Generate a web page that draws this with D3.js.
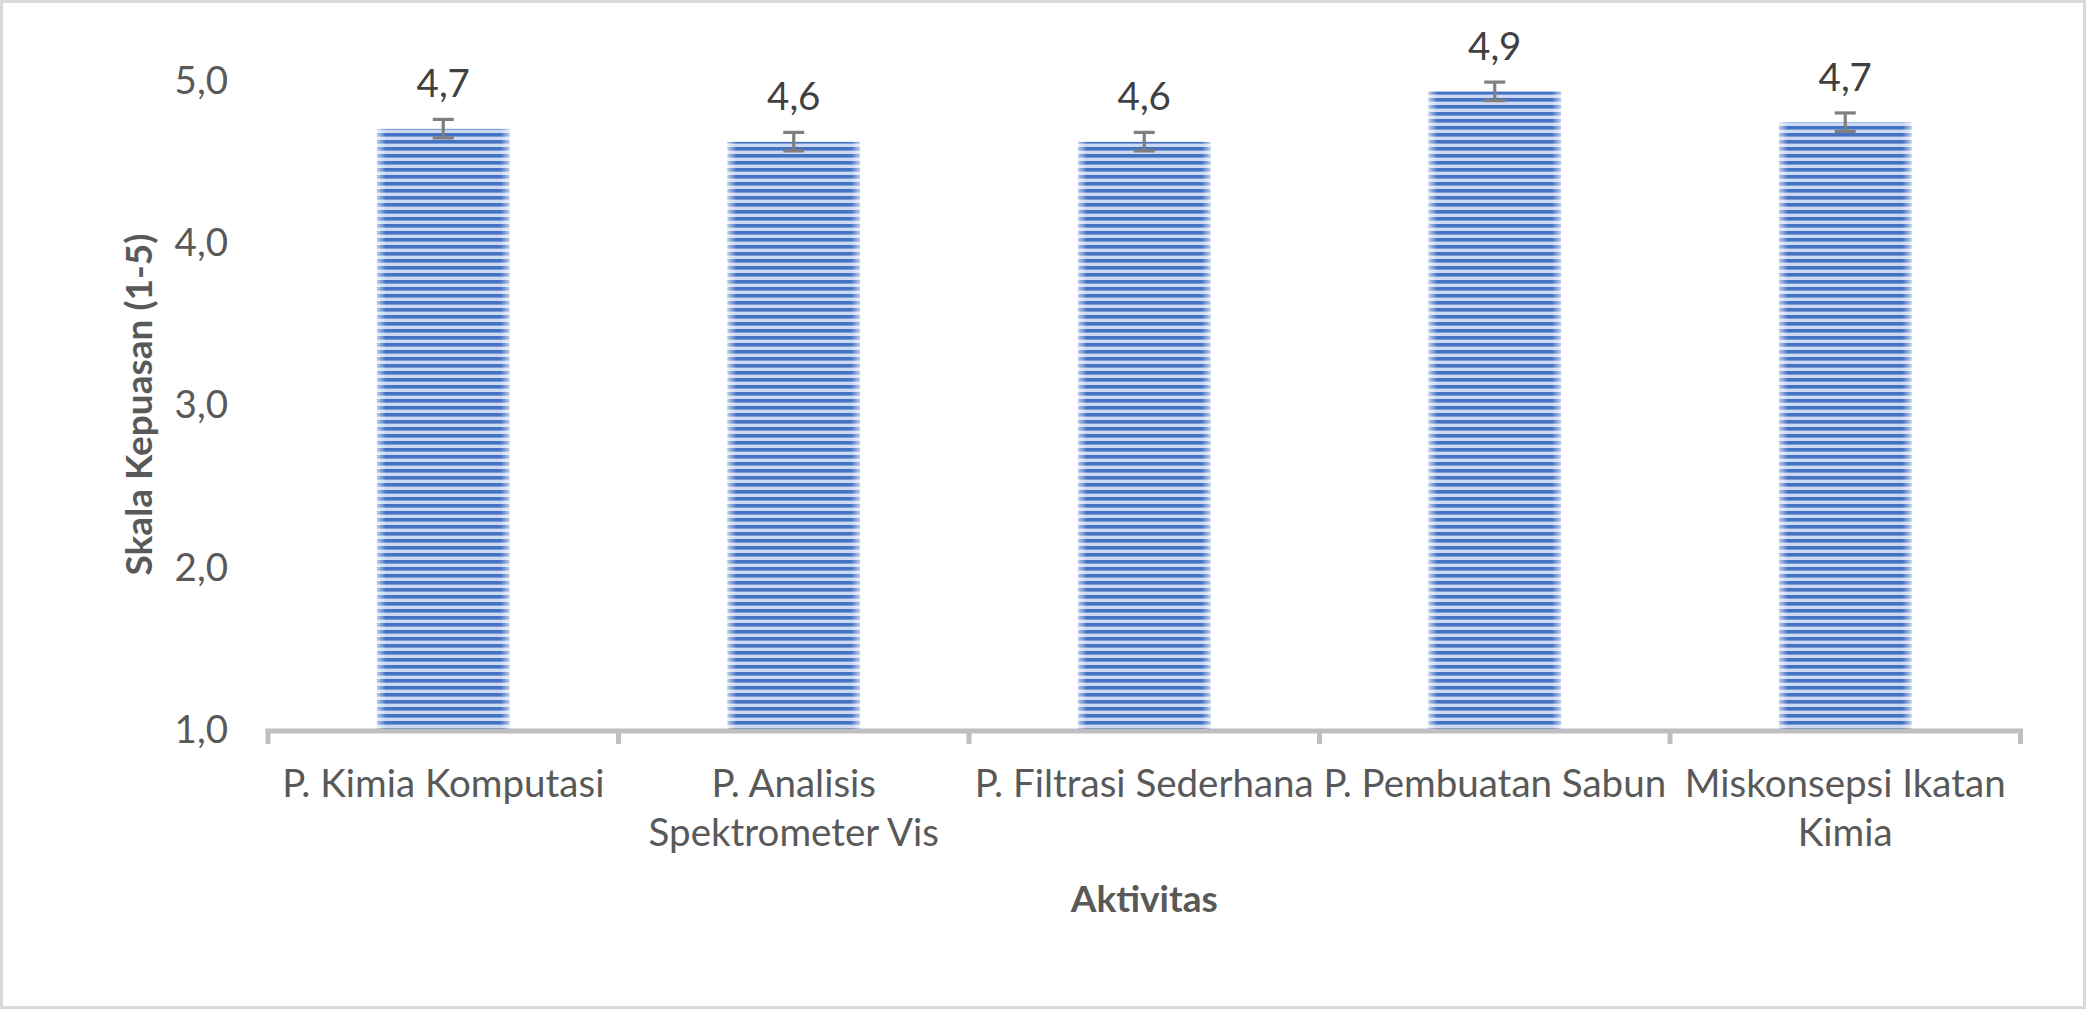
<!DOCTYPE html>
<html>
<head>
<meta charset="utf-8">
<script src="https://cdn.jsdelivr.net/npm/d3@7"></script>
<style>
    body { margin: 0; background: #fff; }
    svg text { font-family: Lato, "Open Sans", sans-serif; }
</style>
</head>
<body>
<div id="chart"></div>
<script>
const categories = ["P. Kimia Komputasi", "P. Analisis Spektrometer Vis", "P. Filtrasi Sederhana", "P. Pembuatan Sabun", "Miskonsepsi Ikatan Kimia"];
const labelLines = [["P. Kimia Komputasi"], ["P. Analisis", "Spektrometer Vis"], ["P. Filtrasi Sederhana"], ["P. Pembuatan Sabun"], ["Miskonsepsi Ikatan", "Kimia"]];
const values = [4.70, 4.62, 4.62, 4.93, 4.74];
const errors = [0.057, 0.057, 0.057, 0.057, 0.057];
const yTicks = [1, 2, 3, 4, 5];
const yTitle = "Skala Kepuasan (1-5)";
const xTitle = "Aktivitas";

const WIDTH = 2086, HEIGHT = 1009;
const MARGIN = { top: 80, right: 65.5, bottom: 280, left: 268 };
const FONT = 38.5;
const TITLE_FONT = 37;

let fmt = v => d3.format('.1f')(v).replace('.', ',');

let svg = d3.select('#chart').append('svg')
    .attr('width', WIDTH)
    .attr('height', HEIGHT);

// chart area border
svg.append('rect')
    .attr('x', 1.5).attr('y', 1.5)
    .attr('width', WIDTH - 3).attr('height', HEIGHT - 3)
    .attr('fill', '#fff')
    .attr('stroke', '#d9d9d9')
    .attr('stroke-width', 3);

let x = d3.scaleBand()
    .domain(categories)
    .range([MARGIN.left, WIDTH - MARGIN.right])
    .paddingInner(0.62)
    .paddingOuter(0.31);

let y = d3.scaleLinear()
    .domain([1, 5])
    .range([HEIGHT - MARGIN.bottom, MARGIN.top]);

// striped fill with soft edges
let defs = svg.append('defs');
let pat = defs.append('pattern')
    .attr('id', 'stripes')
    .attr('patternUnits', 'userSpaceOnUse')
    .attr('width', 8).attr('height', 7);
pat.append('rect').attr('width', 8).attr('height', 7).attr('fill', '#cdd9f0');
pat.append('rect').attr('width', 8).attr('height', 3.6).attr('fill', '#4472c4');

let grad = defs.append('linearGradient').attr('id', 'softEdge');
[[0, 0.35], [0.07, 1], [0.93, 1], [1, 0.35]].forEach(s => {
    grad.append('stop').attr('offset', s[0]).attr('stop-color', '#fff').attr('stop-opacity', s[1]);
});
defs.append('mask')
    .attr('id', 'soft')
    .attr('maskContentUnits', 'objectBoundingBox')
    .append('rect').attr('width', 1).attr('height', 1).attr('fill', 'url(#softEdge)');

let data = categories.map((c, i) => ({ cat: c, value: values[i], err: errors[i], lines: labelLines[i] }));

svg.append('g').selectAll('rect')
    .data(data)
    .enter().append('rect')
    .attr('x', d => x(d.cat))
    .attr('y', d => y(d.value))
    .attr('width', x.bandwidth())
    .attr('height', d => y(1) - y(d.value))
    .attr('fill', 'url(#stripes)')
    .attr('mask', 'url(#soft)');

// error bars
let eb = svg.append('g')
    .attr('stroke', '#7f7f7f')
    .attr('stroke-width', 3.2);
data.forEach(d => {
    let cx = x(d.cat) + x.bandwidth() / 2;
    eb.append('line').attr('x1', cx).attr('x2', cx).attr('y1', y(d.value - d.err)).attr('y2', y(d.value + d.err));
    eb.append('line').attr('x1', cx - 10.5).attr('x2', cx + 10.5).attr('y1', y(d.value - d.err)).attr('y2', y(d.value - d.err));
    eb.append('line').attr('x1', cx - 10.5).attr('x2', cx + 10.5).attr('y1', y(d.value + d.err)).attr('y2', y(d.value + d.err));
});

// data labels
svg.append('g').selectAll('text')
    .data(data)
    .enter().append('text')
    .attr('x', d => x(d.cat) + x.bandwidth() / 2)
    .attr('y', d => y(d.value + d.err) - 22)
    .attr('text-anchor', 'middle')
    .attr('font-size', FONT)
    .attr('fill', '#404040')
    .text(d => fmt(d.value));

// y axis
let gY = svg.append('g')
    .attr('transform', 'translate(236,0)')
    .call(d3.axisLeft(y).tickValues(yTicks).tickSize(0).tickPadding(8).tickFormat(fmt));
gY.select('.domain').remove();
gY.selectAll('.tick text')
    .attr('font-size', FONT)
    .attr('fill', '#595959')
    .attr('dy', '0.35em');

// x axis: line + boundary ticks
let axisY = y(1) + 2;
let gap = x.step() - x.bandwidth();
let bounds = categories.map(c => x(c) - gap / 2).concat([WIDTH - MARGIN.right]);
let gX = svg.append('g').attr('stroke', '#bfbfbf').attr('stroke-width', 5);
gX.append('line').attr('x1', bounds[0] - 2.5).attr('x2', bounds[bounds.length - 1] + 2.5).attr('y1', axisY).attr('y2', axisY);
bounds.forEach(b => {
    gX.append('line').attr('x1', b).attr('x2', b).attr('y1', axisY).attr('y2', axisY + 13);
});

let gXL = svg.append('g')
    .attr('transform', 'translate(0,' + y(1) + ')')
    .call(d3.axisBottom(x).tickSize(0).tickFormat(''));
gXL.select('.domain').remove();
gXL.selectAll('.tick').each(function (c, i) {
    let t = d3.select(this).select('text')
        .attr('y', 0).attr('dy', null)
        .attr('font-size', FONT)
        .attr('fill', '#595959');
    labelLines[i].forEach((ln, k) => {
        t.append('tspan').attr('x', 0).attr('y', 68 + k * 49).text(ln);
    });
});

// axis titles
svg.append('text')
    .attr('transform', 'translate(152,' + (y(3)) + ') rotate(-90)')
    .attr('text-anchor', 'middle')
    .attr('font-size', TITLE_FONT)
    .attr('font-weight', 'bold')
    .attr('fill', '#595959')
    .text(yTitle);

svg.append('text')
    .attr('x', (MARGIN.left + WIDTH - MARGIN.right) / 2)
    .attr('y', 912)
    .attr('text-anchor', 'middle')
    .attr('font-size', TITLE_FONT)
    .attr('font-weight', 'bold')
    .attr('fill', '#595959')
    .text(xTitle);
</script>
</body>
</html>
